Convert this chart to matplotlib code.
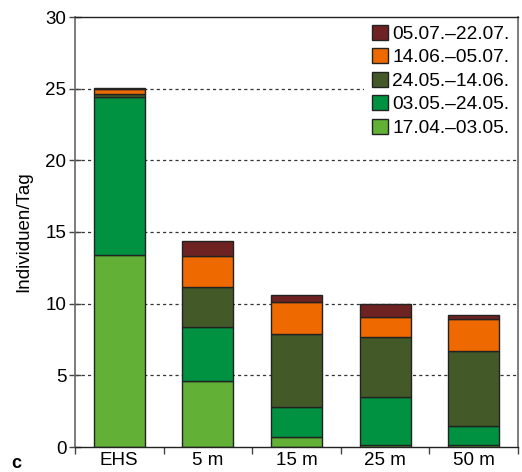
import matplotlib
matplotlib.use("Agg")
import matplotlib.pyplot as plt
from matplotlib.patches import Patch
import numpy as np

plt.rcParams['font.family'] = ['Liberation Sans', 'DejaVu Sans']

categories = ["EHS", "5 m", "15 m", "25 m", "50 m"]
periods = ["17.04.–03.05.", "03.05.–24.05.", "24.05.–14.06.", "14.06.–05.07.", "05.07.–22.07."]
colors = ["#62b036", "#009241", "#435a28", "#ee6a00", "#6e2222"]

p1 = [13.4, 4.6, 0.7, 0.15, 0.15]
p2 = [11.0, 3.8, 2.1, 3.35, 1.35]
p3 = [0.25, 2.75, 5.1, 4.2, 5.2]
p4 = [0.35, 2.15, 2.2, 1.35, 2.2]
p5 = [0.07, 1.05, 0.5, 0.9, 0.3]
series = [p1, p2, p3, p4, p5]

yticks = [0, 5, 10, 15, 20, 25, 30]

fig = plt.figure(figsize=(5.22, 4.72), dpi=100)
ax = fig.add_axes([75/522, 1-447/472, (518-75)/522, (447-17)/472])

x = np.arange(len(categories))
bottom = np.zeros(len(categories))
for vals, c in zip(series, colors):
    ax.bar(x, vals, width=0.575, bottom=bottom, color=c, edgecolor="#222222",
           linewidth=1.0, zorder=3)
    bottom += np.array(vals)

ax.set_xlim(-0.5, 4.5)
ax.set_ylim(0, 30)
ax.set_yticks(yticks)
ax.set_yticklabels([str(v) for v in yticks], fontsize=13.5)
ax.set_xticks(x)
ax.set_xticklabels(categories, fontsize=13.5)
ax.set_xticks(np.arange(-0.5, 5.0, 1.0), minor=True)
ax.tick_params(axis='x', which='major', length=0, pad=3.5)
ax.tick_params(axis='x', which='minor', length=5, direction='out', width=1, color='#444')
ax.tick_params(axis='y', which='major', length=8.5, direction='inout', width=1, color='#444', pad=2)

for v in yticks[1:-1]:
    ax.axhline(v, color='#333333', linestyle=(0, (2.5, 2.5)), linewidth=0.9, zorder=1)

for s in ['left', 'right']:
    ax.spines[s].set_color('#666666')
    ax.spines[s].set_linewidth(1.2)
for s in ['top', 'bottom']:
    ax.spines[s].set_color('#222222')
    ax.spines[s].set_linewidth(1.0)
for s in ax.spines.values():
    s.set_zorder(8)

ax.set_ylabel("Individuen/Tag", fontsize=13.5)
ax.yaxis.set_label_coords((32-75)/443, 0.5)

handles = [Patch(facecolor=c, edgecolor="#222222", linewidth=1.0) for c in colors]
leg = ax.legend(handles[::-1], periods[::-1], loc='upper right', fontsize=13.8,
                bbox_to_anchor=(1.0, 1.0 + 1/430),
                frameon=True, fancybox=False, framealpha=1, facecolor='white',
                edgecolor='none',
                borderaxespad=0, handlelength=0.83, handleheight=0.83,
                handletextpad=0.2, labelspacing=0.28, borderpad=0.45)
leg.set_zorder(5)

fig.text(11/522, 1-464/472, "c", fontsize=13, fontweight='bold', va='center', ha='left')

fig.savefig("out.png", dpi=100)
